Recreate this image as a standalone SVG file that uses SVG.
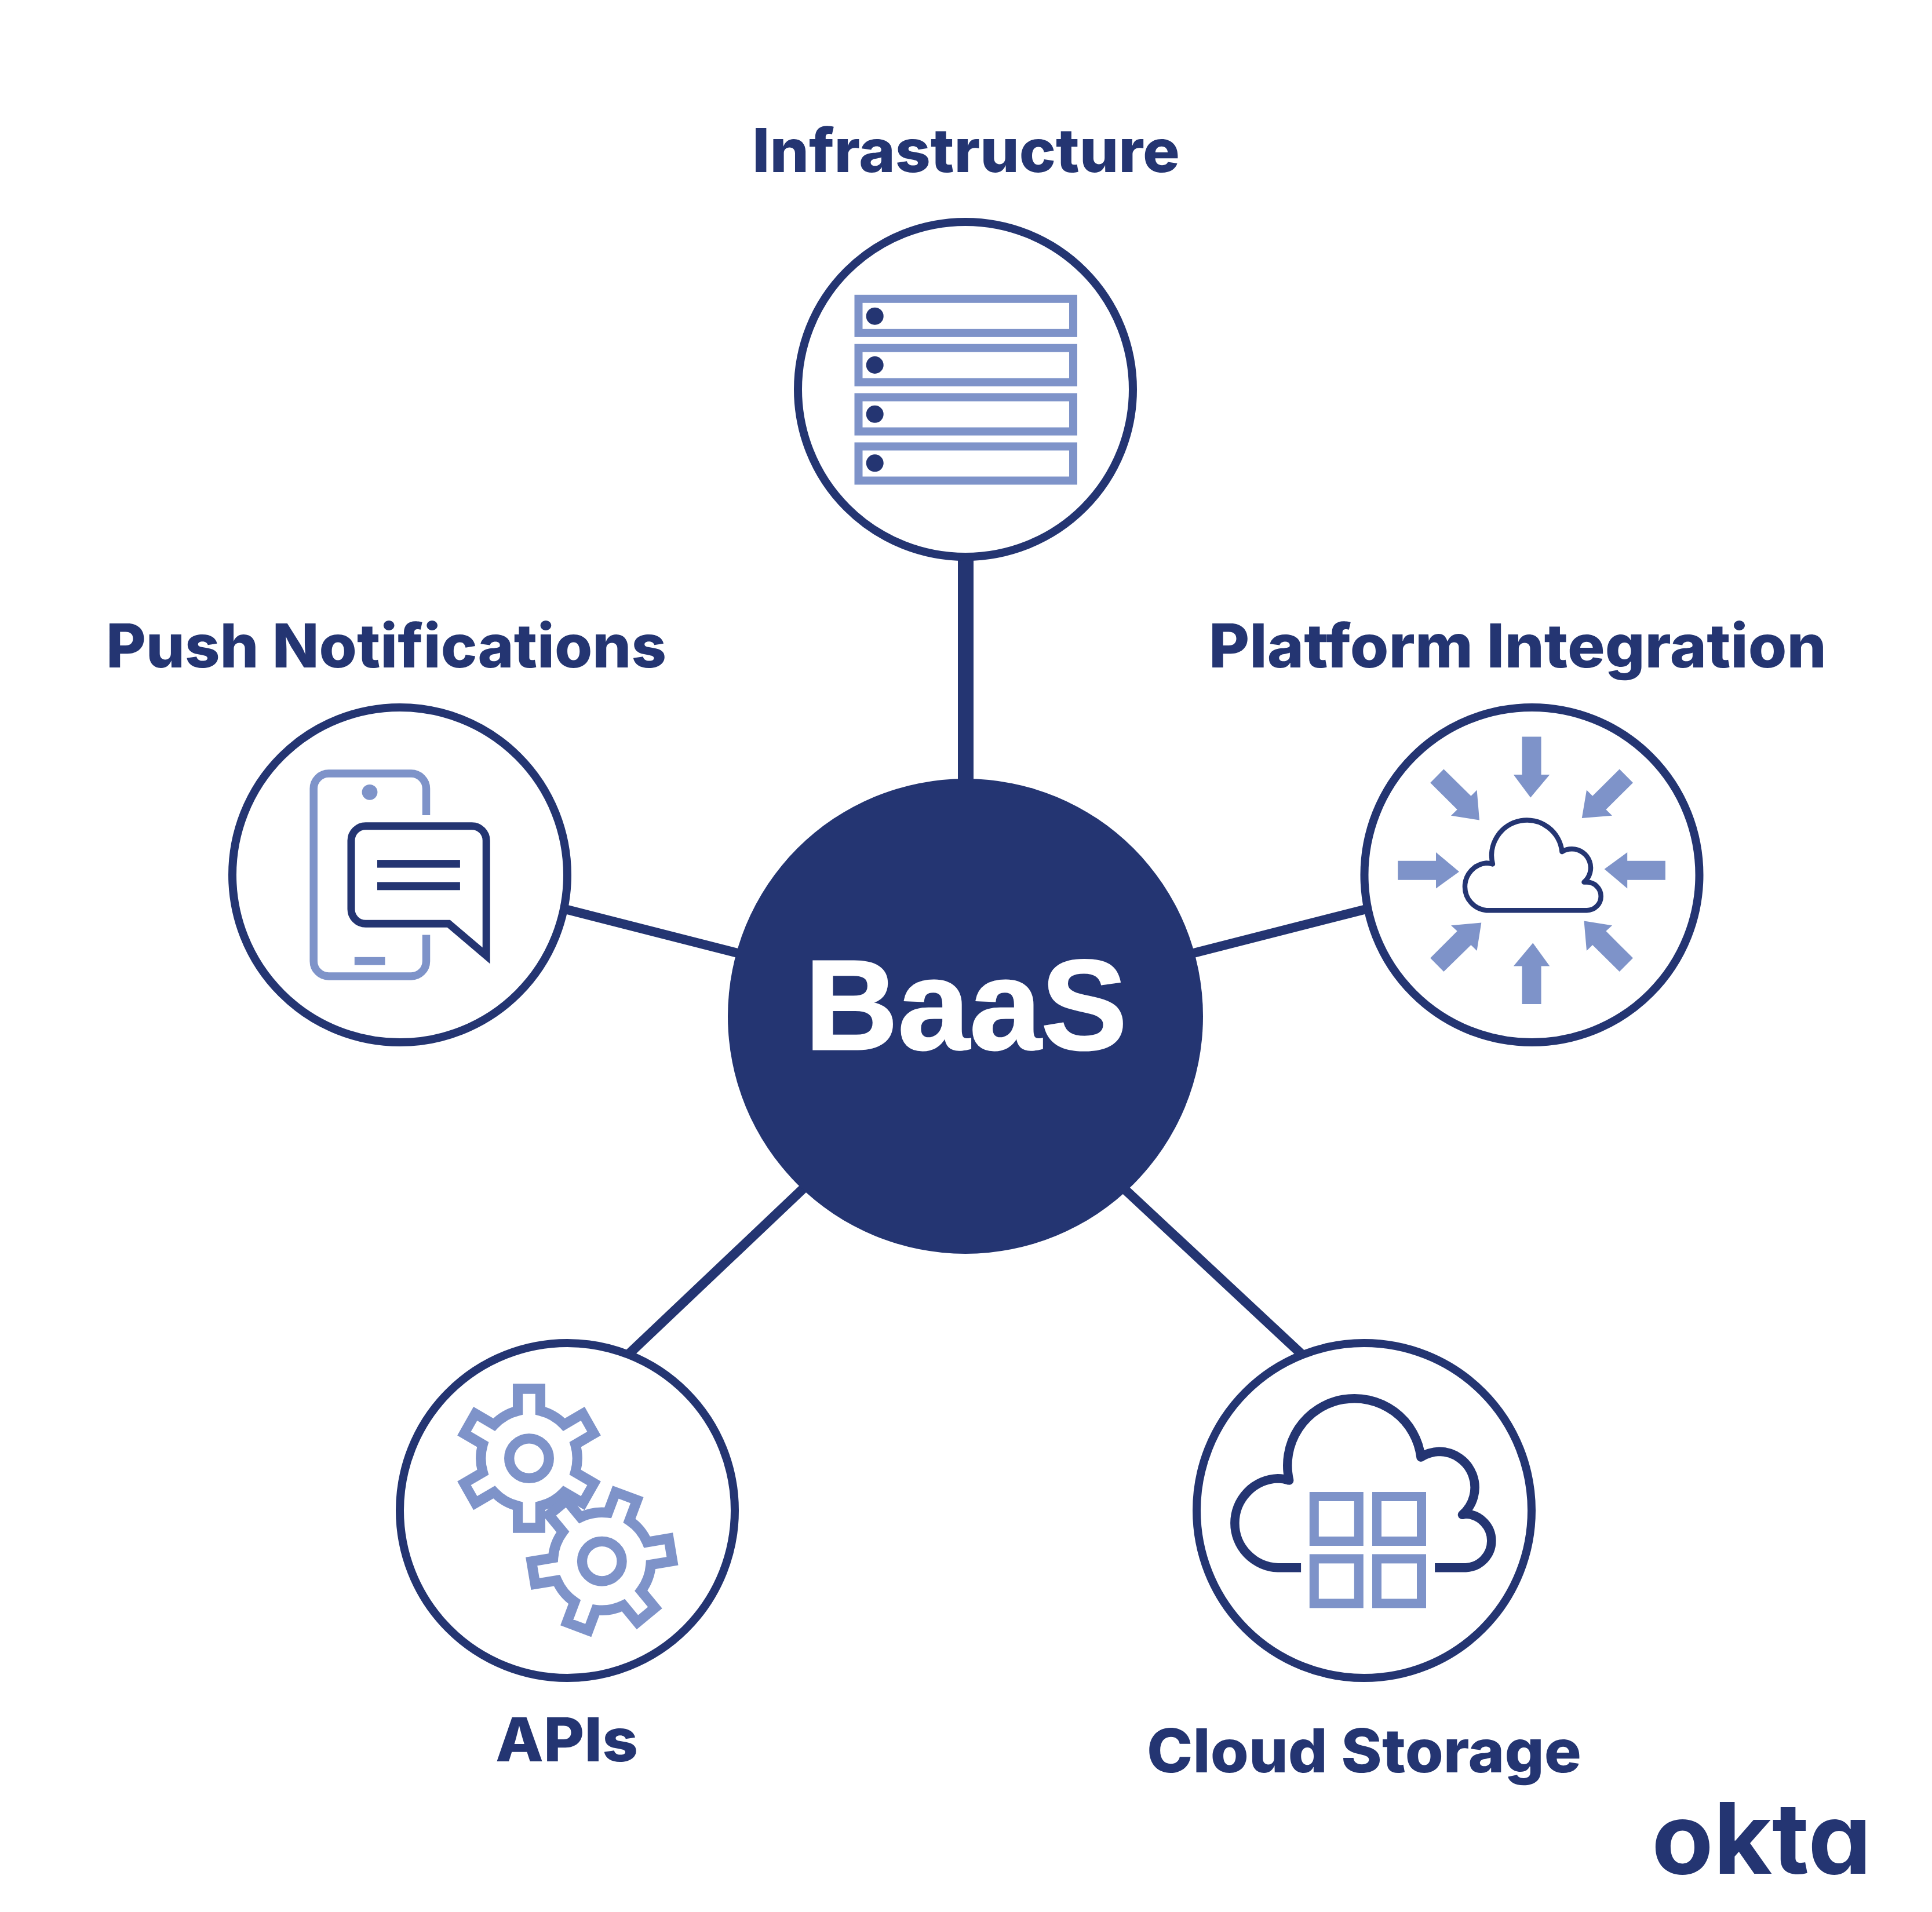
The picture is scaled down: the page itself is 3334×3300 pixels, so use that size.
<svg xmlns="http://www.w3.org/2000/svg" width="3334" height="3300" viewBox="0 0 3334 3300">
<style>
.ring{fill:#fff;stroke:#243572;stroke-width:14}
.conn{stroke:#243572;fill:none}
.label{font-family:"Inter","Liberation Sans",sans-serif;font-weight:800;font-size:104px;fill:#243572}
.lt{fill:none;stroke:#7E93C9}
.ltf{fill:#7E93C9}
.nv{fill:none;stroke:#243572}
.nvf{fill:#243572}
.srv{fill:#fff;stroke:#7E93C9;stroke-width:14}
.gear{fill:#fff;stroke:#7E93C9;stroke-width:17.5;stroke-miterlimit:10}
.sq{fill:#fff;stroke:#7E93C9;stroke-width:16}
</style>
<defs>
<path id="gearShape" d="M-19.7 -82.2V-120H19.7V-82.2A84.5 84.5 0 0 1 61.3 -58.2L94.1 -77.1L113.8 -42.9L81 -24A84.5 84.5 0 0 1 81 24L113.8 42.9L94.1 77.1L61.3 58.2A84.5 84.5 0 0 1 19.7 82.2V120H-19.7V82.2A84.5 84.5 0 0 1 -61.3 58.2L-94.1 77.1L-113.8 42.9L-81 24A84.5 84.5 0 0 1 -81 -24L-113.8 -42.9L-94.1 -77.1L-61.3 -58.2A84.5 84.5 0 0 1 -19.7 -82.2Z"/>
</defs>
<rect width="3334" height="3300" fill="#fff"/>
<g id="connectors">
<line class="conn" stroke-width="27" x1="1666.5" y1="960" x2="1666.5" y2="1350"/>
<line class="conn" stroke-width="16" x1="975" y1="1569" x2="1285" y2="1648"/>
<line class="conn" stroke-width="16" x1="2358" y1="1569" x2="2048" y2="1648"/>
<line class="conn" stroke-width="16.5" x1="1085" y1="2337" x2="1396" y2="2042"/>
<line class="conn" stroke-width="16.5" x1="2248" y1="2339" x2="1937" y2="2049"/>
</g>
<g id="node-baas">
<circle cx="1666" cy="1754" r="410" class="nvf"/>
<text x="1389" y="1811" font-family="'Liberation Sans',Arial,sans-serif" font-weight="700" font-size="221" fill="#fff" stroke="#fff" stroke-width="3" textLength="556" lengthAdjust="spacingAndGlyphs">BaaS</text>
</g>
<g id="node-infrastructure">
<circle cx="1666" cy="672" r="289" class="ring"/>
<rect class="srv" x="1481.5" y="515.8" width="370.5" height="59"/>
<rect class="srv" x="1481.5" y="600.7" width="370.5" height="59"/>
<rect class="srv" x="1481.5" y="685.6" width="370.5" height="59"/>
<rect class="srv" x="1481.5" y="770.5" width="370.5" height="59"/>
<circle class="nvf" cx="1509.7" cy="545.7" r="15"/>
<circle class="nvf" cx="1509.7" cy="630" r="15"/>
<circle class="nvf" cx="1509.7" cy="714.8" r="15"/>
<circle class="nvf" cx="1509.7" cy="799.3" r="15"/>
<text class="label" x="1298" y="297" textLength="738" lengthAdjust="spacingAndGlyphs">Infrastructure</text>
</g>
<g id="node-push">
<circle cx="690" cy="1510" r="289" class="ring"/>
<path class="lt" stroke-width="13.5" d="M735.5 1407V1361.1A26 26 0 0 0 709.5 1335.1H567.2A26 26 0 0 0 541.2 1361.1V1658.9A26 26 0 0 0 567.2 1684.9H709.5A26 26 0 0 0 735.5 1658.9V1613.5"/>
<circle class="ltf" cx="638" cy="1367.3" r="13.4"/>
<rect class="ltf" x="611.8" y="1651.8" width="52.7" height="13.9"/>
<path class="nv" stroke-width="13" stroke-miterlimit="10" d="M631 1425.7H814.2A25 25 0 0 1 839.2 1450.7V1649.5L774.3 1594.3H631A25 25 0 0 1 606 1569.3V1450.7A25 25 0 0 1 631 1425.7Z"/>
<rect class="nvf" x="651" y="1484.1" width="142.9" height="13.5"/>
<rect class="nvf" x="651" y="1522.4" width="142.9" height="13.9"/>
<text class="label" x="183" y="1151.7" textLength="967" lengthAdjust="spacingAndGlyphs">Push Notifications</text>
</g>
<g id="node-platform">
<circle cx="2643.5" cy="1510" r="289" class="ring"/>
<g class="ltf">
<polygon points="2626.5,1271.5 2659.6,1271.5 2659.6,1337 2674.3,1337 2641.2,1376.4 2611.8,1337 2626.5,1337"/>
<polygon points="2626.5,1732.9 2659.6,1732.9 2659.6,1667.4 2674.3,1667.4 2645.3,1627.5 2611.8,1667.4 2626.5,1667.4"/>
<polygon points="2412.2,1485.7 2478,1485.7 2478,1471 2518,1504.4 2478,1533.4 2478,1518.7 2412.2,1518.7"/>
<polygon points="2873.9,1485.7 2808.2,1485.7 2808.2,1471 2768.6,1500 2808.2,1533.4 2808.2,1518.7 2873.9,1518.7"/>
<polygon points="2491.4,1327.4 2538.4,1373.8 2548.6,1363.4 2553,1415.5 2504,1407.7 2514.7,1397.3 2468.2,1350.9"/>
<polygon points="2794.7,1327.4 2748.2,1373.8 2738,1363.4 2729.8,1412 2782,1407.7 2771.4,1397.3 2818,1350.9"/>
<polygon points="2468.2,1653.6 2514.7,1607.1 2504,1597.2 2556.3,1592.4 2548.6,1641 2538.4,1631 2491.4,1677"/>
<polygon points="2818,1653.6 2771.4,1607.1 2782,1597.2 2733.5,1589.4 2738,1641 2748.2,1631 2794.7,1677"/>
</g>
<path class="nv" stroke-width="8.5" stroke-linejoin="round" stroke-linecap="round" d="M2575.9 1491.4C2572 1490.2 2568.5 1489.6 2564.9 1489.6A41 41 0 0 0 2564.9 1571.2H2738.4A24.3 24.3 0 0 0 2738.4 1522.6H2733.5A32.5 32.5 0 0 0 2712.7 1465.3A32.5 32.5 0 0 0 2695.5 1470A60.9 60.9 0 1 0 2575.9 1491.4Z"/>
<text class="label" x="2086" y="1151.7" textLength="1066" lengthAdjust="spacingAndGlyphs">Platform Integration</text>
</g>
<g id="node-apis">
<circle cx="979" cy="2607" r="289" class="ring"/>
<use href="#gearShape" class="gear" transform="translate(913 2517.1) scale(.985 1)"/>
<circle class="lt" stroke-width="17.3" cx="913" cy="2517.1" r="34.3"/>
<use href="#gearShape" class="gear" transform="translate(1038.8 2694.7) rotate(20.5)"/>
<circle class="lt" stroke-width="17.3" cx="1038.8" cy="2694.7" r="34.3"/>
<text class="label" x="855" y="3040" textLength="246" lengthAdjust="spacingAndGlyphs">APIs</text>
</g>
<g id="node-cloud">
<circle cx="2354" cy="2607" r="289" class="ring"/>
<path class="nv" stroke-width="15.5" stroke-linejoin="round" d="M2224.7 2555.1C2218.5 2553 2211.5 2551.8 2205.1 2551.8A77 77 0 0 0 2205.1 2705.7H2245.1"/>
<circle class="nvf" cx="2224.7" cy="2555.1" r="7.75"/>
<path class="nv" stroke-width="15.5" stroke-linejoin="round" d="M2476.1 2705.7H2529.6A46.4 46.4 0 0 0 2529.6 2613L2523.5 2614.3A62 62 0 0 0 2483.5 2505.3A62 62 0 0 0 2452 2515.1A115.55 115.55 0 1 0 2224.7 2555.1"/>
<rect class="sq" x="2267.8" y="2583" width="77" height="77"/>
<rect class="sq" x="2376" y="2583" width="77" height="77"/>
<rect class="sq" x="2267.8" y="2690.4" width="77" height="77"/>
<rect class="sq" x="2376" y="2690.4" width="77" height="77"/>
<text class="label" x="1979" y="3058.7" textLength="750" lengthAdjust="spacingAndGlyphs">Cloud Storage</text>
</g>
<g id="logo">
<text x="2850" y="3233.7" font-family="Inter,'Liberation Sans',sans-serif" font-weight="700" font-size="170" fill="#243572" style="font-feature-settings:'cv11'" textLength="380" lengthAdjust="spacingAndGlyphs">okta</text>
</g>
</svg>
